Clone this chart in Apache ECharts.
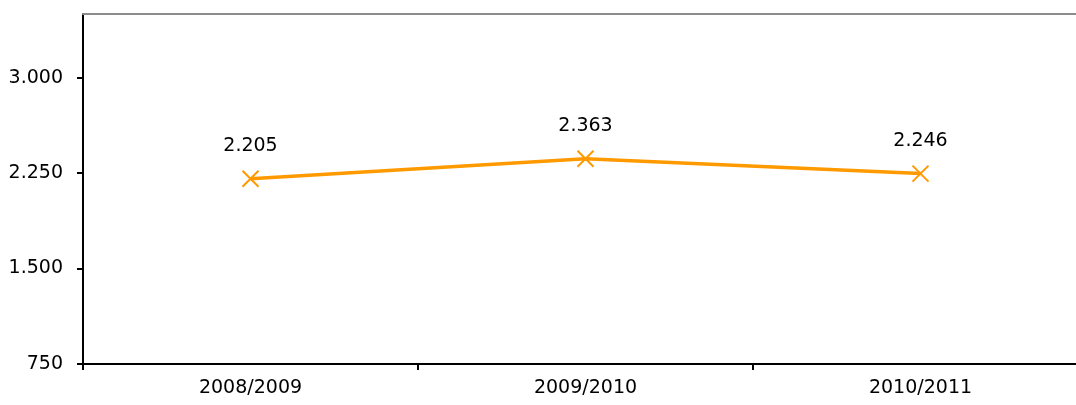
<!DOCTYPE html>
<html>
<head>
<meta charset="utf-8">
<script src="https://cdn.jsdelivr.net/npm/echarts@6/dist/echarts.min.js"></script>
<style>
  html, body { margin: 0; padding: 0; background: #fff; }
  #chart { width: 1076px; height: 405px; }
</style>
</head>
<body>
<div id="chart"></div>
<script>
"use strict";
// seasons on the x axis
var categories = ['2008/2009', '2009/2010', '2010/2011'];
// values
var values = [2205, 2363, 2246];
// y axis ticks
var yMin = 750, yMax = 3500, yStep = 750;

/**
 * format with dot as thousand separator
 */
function fmt(v) {
  return String(v).replace(/\B(?=(\d{3})+(?!\d))/g, '.');
}

var font = 'DejaVu Sans, Verdana, sans-serif';
var chart = echarts.init(document.getElementById('chart'));

chart.setOption({
  animation: false,
  backgroundColor: '#fff',
  // plot runs past the right edge of the picture
  grid: {
    left: 83, top: 14, width: 1005, bottom: 41,
    containLabel: false,
    outerBoundsMode: 'none'
  },
  xAxis: [{
    type: 'category',
    data: categories,
    boundaryGap: true,
    axisLine: { lineStyle: { color: '#000', width: 2 } },
    axisTick: { show: true, length: 6, lineStyle: { color: '#000', width: 2 } },
    axisLabel: { color: '#000', fontFamily: font, fontSize: 19, margin: 15 },
    splitLine: { show: false }
  }, {
    // grey line closing the top of the plot
    type: 'category',
    position: 'top',
    data: categories,
    axisLine: { lineStyle: { color: '#8c8c8c', width: 2 } },
    axisTick: { show: false },
    axisLabel: { show: false }
  }],
  yAxis: {
    type: 'value',
    min: yMin,
    max: yMax,
    interval: yStep,
    axisLine: { show: true, lineStyle: { color: '#000', width: 2 } },
    axisTick: { show: true, length: 6, lineStyle: { color: '#000', width: 2 } },
    axisLabel: {
      color: '#000', fontFamily: font, fontSize: 19, margin: 20,
      showMaxLabel: false,
      formatter: function (v) { return fmt(v); }
    },
    splitLine: { show: false }
  },
  series: [{
    type: 'line',
    data: values,
    symbol: 'path://M0,0L10,10M10,0L0,10',
    symbolSize: 16,
    lineStyle: { color: '#FF9900', width: 3.5 },
    itemStyle: { color: 'transparent', borderColor: '#FF9900', borderWidth: 2 },
    label: {
      show: true,
      position: 'top',
      distance: 14,
      color: '#000',
      fontFamily: font,
      fontSize: 19,
      formatter: function (p) { return fmt(p.value); }
    }
  }]
});
</script>
</body>
</html>
